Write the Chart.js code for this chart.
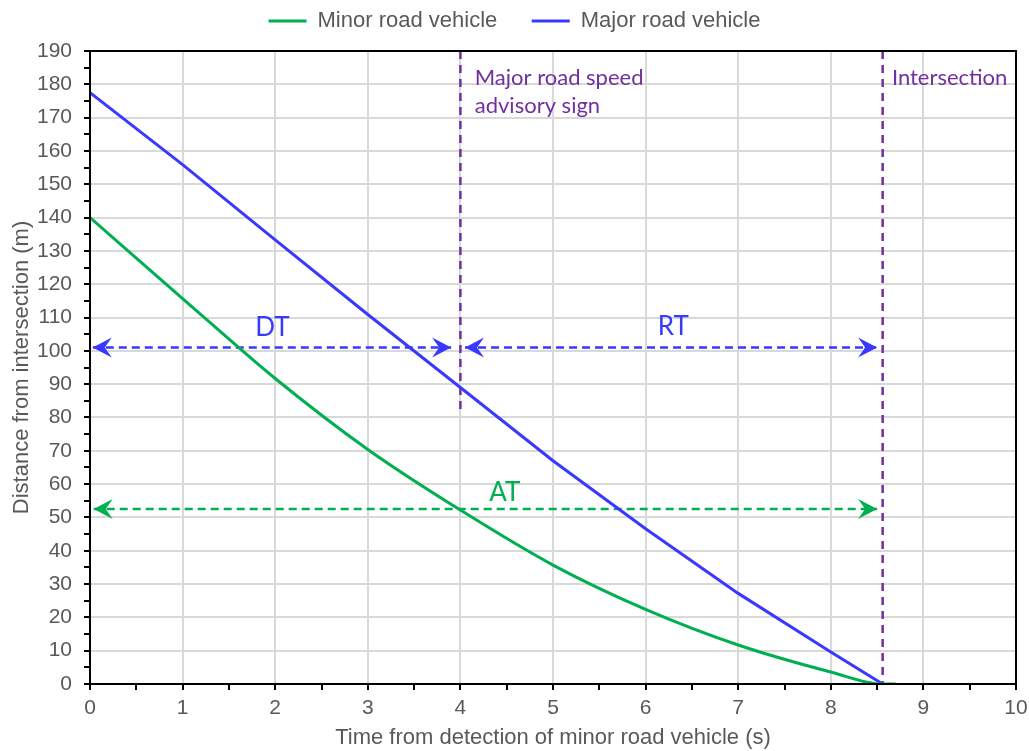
<!DOCTYPE html>
<html>
<head>
<meta charset="utf-8">
<script src="https://cdn.jsdelivr.net/npm/chart.js@4"></script>
<style>
  html, body { margin: 0; padding: 0; background: #fff; }
  #wrap { width: 1029px; height: 751px; }
</style>
</head>
<body>
<div id="wrap"><canvas id="myChart" width="1029" height="751"></canvas></div>
<script>
// time (s) and distance to intersection (m)
var minorTime = [0, 1, 2, 3, 4, 5, 6, 7, 8, 8.56, 8.7];
var minorDist = [140, 115.7, 91.7, 70.4, 52.2, 35.7, 22.4, 11.7, 3.6, 0, 0];
var majorTime = [0, 1, 2, 3, 4, 5, 6, 7, 8, 8.56];
var majorDist = [177.5, 155.9, 133.3, 110.9, 89.0, 67.0, 46.6, 27.2, 9.6, 0];

var signTime = 4;
var signBottom = 81;
var intersectionTime = 8.56;

// time spans (s) shown as double arrows
var dtSpan = [0.03, 3.9];
var rtSpan = [4.05, 8.5];
var atSpan = [0.04, 8.5];
var dtLevel = 101;
var atLevel = 52.5;

var xMin = 0, xMax = 10, xStep = 0.5;
var yMin = 0, yMax = 190, yStep = 5;

var seriesNames = ["Minor road vehicle", "Major road vehicle"];
var green = "#00B050";
var blue = "#3838FF";
var purple = "#7030A0";

// texts: [text, time, distance, align, colour, size]
var notes = [
  ["DT", 1.97, 104.6, "center", blue, 26],
  ["RT", 6.3, 104.8, "center", blue, 26],
  ["AT", 4.48, 55.0, "center", green, 26],
  ["Major road speed", 4.155, 179.7, "left", purple, 22],
  ["advisory sign", 4.155, 171.4, "left", purple, 22],
  ["Intersection", 8.66, 179.9, "left", purple, 22]
];

function pts(xs, ys) {
  return xs.map(function (x, i) { return {x: x, y: ys[i]}; });
}

function arrowHead(ctx, x, y, dir, color) {
  ctx.save();
  ctx.fillStyle = color;
  ctx.beginPath();
  ctx.moveTo(x, y);
  ctx.lineTo(x - dir * 19, y - 10);
  ctx.lineTo(x - dir * 12, y);
  ctx.lineTo(x - dir * 19, y + 10);
  ctx.closePath();
  ctx.fill();
  ctx.restore();
}

var overlay = {
  id: "overlay",
  beforeLayout: function (chart) {
    // legend band as tall as in the picture
    var lg = chart.legend;
    if (lg && !lg._fixed) {
      var fit = lg.fit;
      lg.fit = function () { fit.call(this); this.height = 51; };
      lg._fixed = true;
    }
  },
  afterDatasetsDraw: function (chart) {
    var ctx = chart.ctx;
    var a = chart.chartArea;
    var xs = chart.scales.x, ys = chart.scales.y;

    chart.data.datasets.forEach(function (ds, i) {
      if (!ds.arrows) return;
      var d = chart.getDatasetMeta(i).data;
      arrowHead(ctx, d[0].x, d[0].y, -1, ds.borderColor);
      arrowHead(ctx, d[d.length - 1].x, d[d.length - 1].y, 1, ds.borderColor);
    });

    notes.forEach(function (n) {
      ctx.save();
      ctx.font = n[5] + "px Lato, 'Open Sans', sans-serif";
      ctx.fillStyle = n[4];
      ctx.textAlign = n[3];
      ctx.textBaseline = "alphabetic";
      ctx.fillText(n[0], xs.getPixelForValue(n[1]), ys.getPixelForValue(n[2]));
      ctx.restore();
    });

    ctx.save();
    ctx.strokeStyle = "#000";
    ctx.lineWidth = 2;
    ctx.strokeRect(a.left, a.top, a.right - a.left, a.bottom - a.top);
    ctx.restore();
  }
};

Chart.defaults.font.family = "'Liberation Sans', Arial, sans-serif";
Chart.defaults.color = "#595959";

function dashed(label, data, color, dash, arrows) {
  return {
    label: label, data: data, borderColor: color, backgroundColor: color,
    borderWidth: 2.5, borderDash: dash, pointRadius: 0, arrows: arrows,
    tension: 0, legendHide: true
  };
}

new Chart("myChart", {
  type: "line",
  data: {
    datasets: [
      {
        label: seriesNames[0], data: pts(minorTime, minorDist),
        borderColor: green, backgroundColor: green, borderWidth: 3,
        pointRadius: 0, cubicInterpolationMode: "monotone"
      },
      {
        label: seriesNames[1], data: pts(majorTime, majorDist),
        borderColor: blue, backgroundColor: blue, borderWidth: 3,
        pointRadius: 0
      },
      dashed("sign", [{x: signTime, y: yMax}, {x: signTime, y: signBottom}], purple, [8, 6], false),
      dashed("intersection", [{x: intersectionTime, y: yMax}, {x: intersectionTime, y: yMin}], purple, [8, 6], false),
      dashed("DT", [{x: dtSpan[0], y: dtLevel}, {x: dtSpan[1], y: dtLevel}], blue, [8, 5], true),
      dashed("RT", [{x: rtSpan[0], y: dtLevel}, {x: rtSpan[1], y: dtLevel}], blue, [8, 5], true),
      dashed("AT", [{x: atSpan[0], y: atLevel}, {x: atSpan[1], y: atLevel}], green, [8, 5], true)
    ]
  },
  options: {
    responsive: false,
    animation: false,
    layout: {padding: 0},
    plugins: {
      tooltip: {enabled: false},
      legend: {
        position: "top",
        labels: {
          usePointStyle: true,
          pointStyle: "line",
          pointStyleWidth: 38,
          padding: 10,
          color: "#595959",
          font: {size: 22},
          filter: function (item, data) { return !data.datasets[item.datasetIndex].legendHide; },
          generateLabels: function (chart) {
            var items = Chart.defaults.plugins.legend.labels.generateLabels(chart);
            items.forEach(function (it) {
              it.pointStyle = "line";
              if (it.datasetIndex === 0) it.text = it.text + "    ";
            });
            return items;
          }
        }
      }
    },
    scales: {
      x: {
        type: "linear", min: xMin, max: xMax,
        afterFit: function (s) { s.height = 67; s.paddingRight = 13; s.paddingLeft = 0; },
        border: {color: "#000", width: 2},
        grid: {
          color: function (c) { return c.tick && c.tick.value % 1 === 0 ? "#D9D9D9" : "rgba(0,0,0,0)"; },
          lineWidth: 2, tickColor: "#000", tickLength: 6
        },
        ticks: {
          stepSize: xStep, autoSkip: false, padding: 6, color: "#595959",
          font: {size: 21}, maxRotation: 0,
          callback: function (v) { return v % 1 === 0 ? v : ""; }
        },
        title: {
          display: true, text: "Time from detection of minor road vehicle (s)",
          color: "#595959", font: {size: 22}, padding: {top: 0, bottom: 0}
        }
      },
      y: {
        type: "linear", min: yMin, max: yMax,
        afterFit: function (s) { s.width = 90; s.paddingTop = 0; s.paddingBottom = 0; },
        border: {color: "#000", width: 2},
        grid: {
          color: function (c) { return c.tick && c.tick.value % 10 === 0 ? "#D9D9D9" : "rgba(0,0,0,0)"; },
          lineWidth: 2, tickColor: "#000", tickLength: 6
        },
        ticks: {
          stepSize: yStep, autoSkip: false, padding: 12, color: "#595959",
          font: {size: 21},
          callback: function (v) { return v % 10 === 0 ? v : ""; }
        },
        title: {
          display: true, text: "Distance from intersection (m)",
          color: "#595959", font: {size: 22}, padding: {top: 9, bottom: 0}
        }
      }
    }
  },
  plugins: [overlay]
});
</script>
</body>
</html>
